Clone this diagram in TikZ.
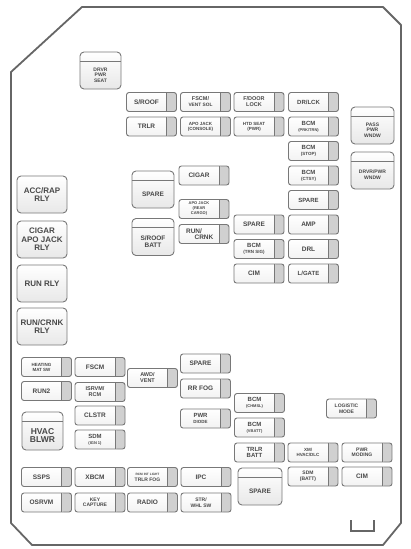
\documentclass[tikz,border=0pt]{standalone}
\usepackage{fontspec}
\setsansfont{Liberation Sans}
\usetikzlibrary{positioning}
\newcommand{\fsz}[1]{\fontsize{#1}{#1}\selectfont}
\definecolor{rimgray}{HTML}{787878}
\definecolor{tabgray}{HTML}{D0D0D0}
\definecolor{lblgray}{HTML}{484848}
\definecolor{outgray}{HTML}{666666}

\begin{document}
\begin{tikzpicture}[x=1pt, y=-1pt,
  every node/.style={font=\sffamily\bfseries\fontsize{6.5}{7}\selectfont, text=lblgray, align=center},
  ftext/.style={inner sep=0pt},
  fuse/.style={rectangle, rounded corners=2.5pt, draw=rimgray, line width=0.9pt,
    top color=white, bottom color=gray!10, minimum width=50pt, minimum height=19pt,
    path picture={
      \fill[tabgray] ([xshift=-10pt]path picture bounding box.north east) rectangle (path picture bounding box.south east);
      \draw[rimgray, line width=0.6pt] ([xshift=-10pt]path picture bounding box.north east) -- ([xshift=-10pt]path picture bounding box.south east);},
    label={[ftext, xshift=-5pt]center:#1}},
  relay/.style={rectangle, rounded corners=4pt, draw=rimgray, line width=0.9pt,
    top color=white, bottom color=gray!18, minimum width=50pt, minimum height=37pt,
    font=\sffamily\bfseries\fontsize{8}{8.5}\selectfont},
  hrelay/.style={relay, minimum width=42pt,
    path picture={\draw[rimgray, line width=0.6pt] ([yshift=-9pt]path picture bounding box.north west) -- ([yshift=-9pt]path picture bounding box.north east);},
    label={[ftext, yshift=-4.5pt]center:#1}}]
\useasboundingbox (0,0) rectangle (411,549);
% housing
\draw[outgray, line width=1.8pt, line join=round] (82,7) -- (383,7) -- (401,25) -- (401,523)
  -- (383,545) -- (32,545) -- (11,523) -- (11,72) -- cycle;
\draw[outgray, line width=1.2pt] (351,520) -- (351,531) -- (374,531) -- (374,520);

% relays
\node[hrelay={\fsz{5}DRVR\\[-1.5pt]\fsz{5}PWR\\[-1.5pt]\fsz{5}SEAT}, minimum width=41pt] (drvrseat) at (100.5,70.5) {};
\node[hrelay={\fsz{5}PASS\\[-1.5pt]\fsz{5}PWR\\[-1.5pt]\fsz{5}WNDW}, minimum width=43pt] (passwndw) at (372.5,125.5) {};
\node[hrelay={\fsz{5}DRVR/PWR\\[-1pt]\fsz{5}WNDW}, minimum width=43pt] (drvrwndw) at (372.5,170.5) {};
\node[hrelay={SPARE}] (sparerly) at (153,189.5) {};
\node[hrelay={S/ROOF\\BATT}] (sroofbatt) at (153,237) {};
\node[relay] (accrap) at (42,194.5) {ACC/RAP\\RLY};
\node[relay] (cigarrly) at (42,239.5) {CIGAR\\APO JACK\\RLY};
\node[relay] (runrly) at (42,283.5) {RUN RLY};
\node[relay] (runcrnkrly) at (42,326.5) {RUN/CRNK\\RLY};
\node[hrelay={\fsz{8.5}HVAC\\[1pt]\fsz{8.5}BLWR}, minimum width=41pt, minimum height=38pt] (hvac) at (42.5,431) {};
\node[hrelay={SPARE}, minimum width=44pt] (sparerly2) at (260,486.5) {};

% fuses, top block
\node[fuse={S/ROOF}] (sroof) at (151.5,102) {};
\node[fuse={\fsz{5.5}FSCM/\\[-1pt]\fsz{4.8}VENT SOL}] (fscmvent) at (205.5,102) {};
\node[fuse={\fsz{5.5}F/DOOR\\[-1pt]\fsz{5.5}LOCK}] (fdoor) at (259,102) {};
\node[fuse={\fsz{6}DR/LCK}] (drlck) at (313.5,102) {};
\node[fuse={TRLR}] (trlr) at (151.5,126.5) {};
\node[fuse={\fsz{4.5}APO JACK\\[-2pt]\fsz{4.5}(CONSOLE)}] (apocons) at (205.5,126.5) {};
\node[fuse={\fsz{4.5}HTD SEAT\\[-2pt]\fsz{4.5}(PWR)}] (htdseat) at (259,126.5) {};
\node[fuse={\fsz{6}BCM\\[-1pt]\fsz{4}(PRK/TRN)}] (bcmprk) at (313.5,126.5) {};
\node[fuse={\fsz{6}BCM\\[-1pt]\fsz{4.5}(STOP)}] (bcmstop) at (313.5,151) {};
\node[fuse={\fsz{6}BCM\\[-1pt]\fsz{4.5}(CTSY)}] (bcmctsy) at (313.5,175.5) {};
\node[fuse={\fsz{6}SPARE}] (spare1) at (313.5,200) {};
\node[fuse={AMP}] (amp) at (313.5,224.5) {};
\node[fuse={DRL}] (drl) at (313.5,249) {};
\node[fuse={\fsz{6}L/GATE}] (lgate) at (313.5,273.5) {};
\node[fuse={CIGAR}] (cigar) at (204,175.5) {};
\node[fuse={\fsz{4}APO JACK\\[-2pt]\fsz{4}(REAR\\[-2pt]\fsz{4}CARGO)}] (aporear) at (204,209) {};
\node[fuse={RUN/\hspace*{10pt}\\[-1pt]\hspace*{10pt}CRNK}] (runcrnk) at (204,234) {};
\node[fuse={SPARE}] (spare2) at (259,224.5) {};
\node[fuse={\fsz{6}BCM\\[-1pt]\fsz{4.5}(TRN SIG)}] (bcmtrn) at (259,249) {};
\node[fuse={CIM}] (cim1) at (259,273.5) {};

% fuses, lower block
\node[fuse={\fsz{4.5}HEATING\\[-2pt]\fsz{4.5}MAT SW}] (heatmat) at (46.5,367) {};
\node[fuse={RUN2}] (run2) at (46.5,391) {};
\node[fuse={FSCM}] (fscm) at (100,367) {};
\node[fuse={\fsz{5.5}ISRVM/\\[-1pt]\fsz{5.5}RCM}] (isrvm) at (100,392) {};
\node[fuse={CLSTR}] (clstr) at (100,415.5) {};
\node[fuse={\fsz{6}SDM\\[-1pt]\fsz{4}(IGN 1)}] (sdmign) at (100,439.5) {};
\node[fuse={\fsz{5.5}AWD/\\[-1pt]\fsz{5.5}VENT}] (awd) at (152.5,378) {};
\node[fuse={SPARE}] (spare3) at (205.5,363.5) {};
\node[fuse={RR FOG}] (rrfog) at (205.5,388.5) {};
\node[fuse={\fsz{6}PWR\\[-1pt]\fsz{4.5}DIODE}] (pwrdiode) at (205.5,418.5) {};
\node[fuse={\fsz{6}BCM\\[-1pt]\fsz{4}(CHMSL)}] (bcmchmsl) at (259.5,403) {};
\node[fuse={\fsz{6}BCM\\[-1pt]\fsz{4}(VBATT)}] (bcmvbatt) at (259.5,427.5) {};
\node[fuse={\fsz{6}TRLR\\[-1pt]\fsz{6}BATT}] (trlrbatt) at (259.5,452.5) {};
\node[fuse={\fsz{5}LOGISTIC\\[-1pt]\fsz{5}MODE}] (logistic) at (351.5,408.5) {};
\node[fuse={\fsz{4.5}XM/\\[-1.5pt]\fsz{4.5}HVAC/DLC}] (xmhvac) at (313,452.5) {};
\node[fuse={\fsz{5}SDM\\[-1.5pt]\fsz{5}(BATT)}] (sdmbatt) at (313,476.5) {};
\node[fuse={\fsz{5}PWR\\[-1.5pt]\fsz{5}MODING}] (pwrmod) at (367,452.5) {};
\node[fuse={CIM}] (cim2) at (367,476.5) {};
\node[fuse={SSPS}] (ssps) at (46.5,477) {};
\node[fuse={OSRVM}] (osrvm) at (46.5,502.5) {};
\node[fuse={XBCM}] (xbcm) at (100,477) {};
\node[fuse={\fsz{5}KEY\\[-1.5pt]\fsz{5}CAPTURE}] (keycap) at (100,502.5) {};
\node[fuse={\fsz{3.2}RCM INT LIGHT\\[-1pt]\fsz{5}TRLR FOG}] (rcmint) at (152.5,477) {};
\node[fuse={RADIO}] (radio) at (152.5,502.5) {};
\node[fuse={IPC}] (ipc) at (206,477) {};
\node[fuse={\fsz{5}STR/\\[-1.5pt]\fsz{5}WHL SW}] (strwhl) at (206,502.5) {};
\end{tikzpicture}
\end{document}
